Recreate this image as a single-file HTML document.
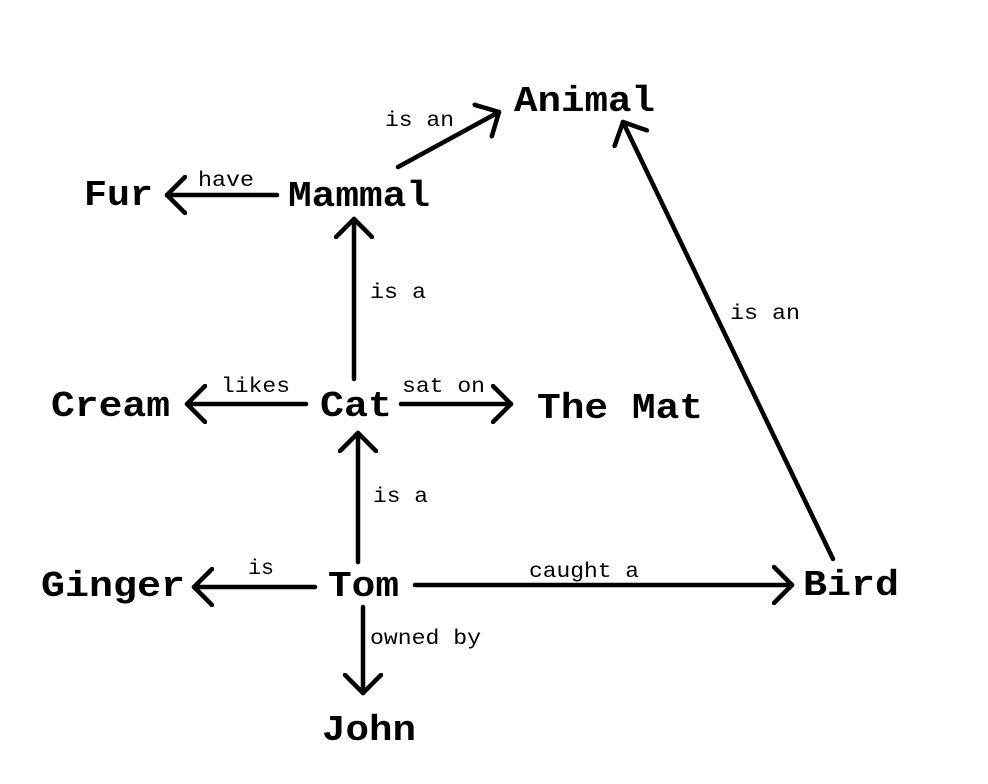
<!DOCTYPE html>
<html><head><meta charset="utf-8"><style>
html,body{margin:0;padding:0;background:#fff;}
svg{display:block;}
.b{font-family:"Liberation Mono","Courier New",monospace;font-weight:bold;font-size:36px;fill:#000;}
.s{font-family:"Liberation Mono","Courier New",monospace;font-size:21px;fill:#000;}
</style></head><body>
<svg width="988" height="784" viewBox="0 0 988 784" xmlns="http://www.w3.org/2000/svg">
<defs>
<marker id="a" markerUnits="userSpaceOnUse" markerWidth="40" markerHeight="40" refX="20" refY="20" orient="auto">
<path d="M2,2 L20,20 L2,38" fill="none" stroke="#000" stroke-width="4.5" stroke-linecap="round" stroke-linejoin="round"/>
</marker>
</defs>
<g stroke="#000" stroke-width="4.5" stroke-linecap="round" fill="none" marker-end="url(#a)">
<line x1="398" y1="167" x2="499" y2="112"/>
<line x1="277" y1="195" x2="167" y2="195"/>
<line x1="354" y1="379" x2="354" y2="219"/>
<line x1="306" y1="404" x2="187" y2="404"/>
<line x1="401" y1="404" x2="511" y2="404"/>
<line x1="358" y1="562" x2="358" y2="433"/>
<line x1="315" y1="587" x2="194" y2="587"/>
<line x1="415" y1="585" x2="792" y2="585"/>
<line x1="363" y1="607" x2="363" y2="693"/>
<line x1="833" y1="559" x2="623" y2="122"/>
</g>
<text class="b" x="514" y="111" textLength="141" lengthAdjust="spacingAndGlyphs">Animal</text>
<text class="b" x="84" y="205" textLength="69" lengthAdjust="spacingAndGlyphs">Fur</text>
<text class="b" x="288" y="206" textLength="142" lengthAdjust="spacingAndGlyphs">Mammal</text>
<text class="b" x="51" y="416" textLength="119" lengthAdjust="spacingAndGlyphs">Cream</text>
<text class="b" x="320" y="416" textLength="72" lengthAdjust="spacingAndGlyphs">Cat</text>
<text class="b" x="537" y="418" textLength="166" lengthAdjust="spacingAndGlyphs">The Mat</text>
<text class="b" x="41" y="596" textLength="144" lengthAdjust="spacingAndGlyphs">Ginger</text>
<text class="b" x="328" y="596" textLength="71" lengthAdjust="spacingAndGlyphs">Tom</text>
<text class="b" x="803" y="595" textLength="96" lengthAdjust="spacingAndGlyphs">Bird</text>
<text class="b" x="322" y="740" textLength="94" lengthAdjust="spacingAndGlyphs">John</text>
<text class="s" x="385" y="126" textLength="69" lengthAdjust="spacingAndGlyphs">is an</text>
<text class="s" x="198" y="186" textLength="56" lengthAdjust="spacingAndGlyphs">have</text>
<text class="s" x="370" y="298" textLength="56" lengthAdjust="spacingAndGlyphs">is a</text>
<text class="s" x="221" y="392" textLength="69" lengthAdjust="spacingAndGlyphs">likes</text>
<text class="s" x="402" y="392" textLength="83" lengthAdjust="spacingAndGlyphs">sat on</text>
<text class="s" x="373" y="502" textLength="55" lengthAdjust="spacingAndGlyphs">is a</text>
<text class="s" x="248" y="574" textLength="26" lengthAdjust="spacingAndGlyphs">is</text>
<text class="s" x="529" y="577" textLength="110" lengthAdjust="spacingAndGlyphs">caught a</text>
<text class="s" x="370" y="644" textLength="111" lengthAdjust="spacingAndGlyphs">owned by</text>
<text class="s" x="730" y="319" textLength="70" lengthAdjust="spacingAndGlyphs">is an</text>
</svg>
</body></html>
